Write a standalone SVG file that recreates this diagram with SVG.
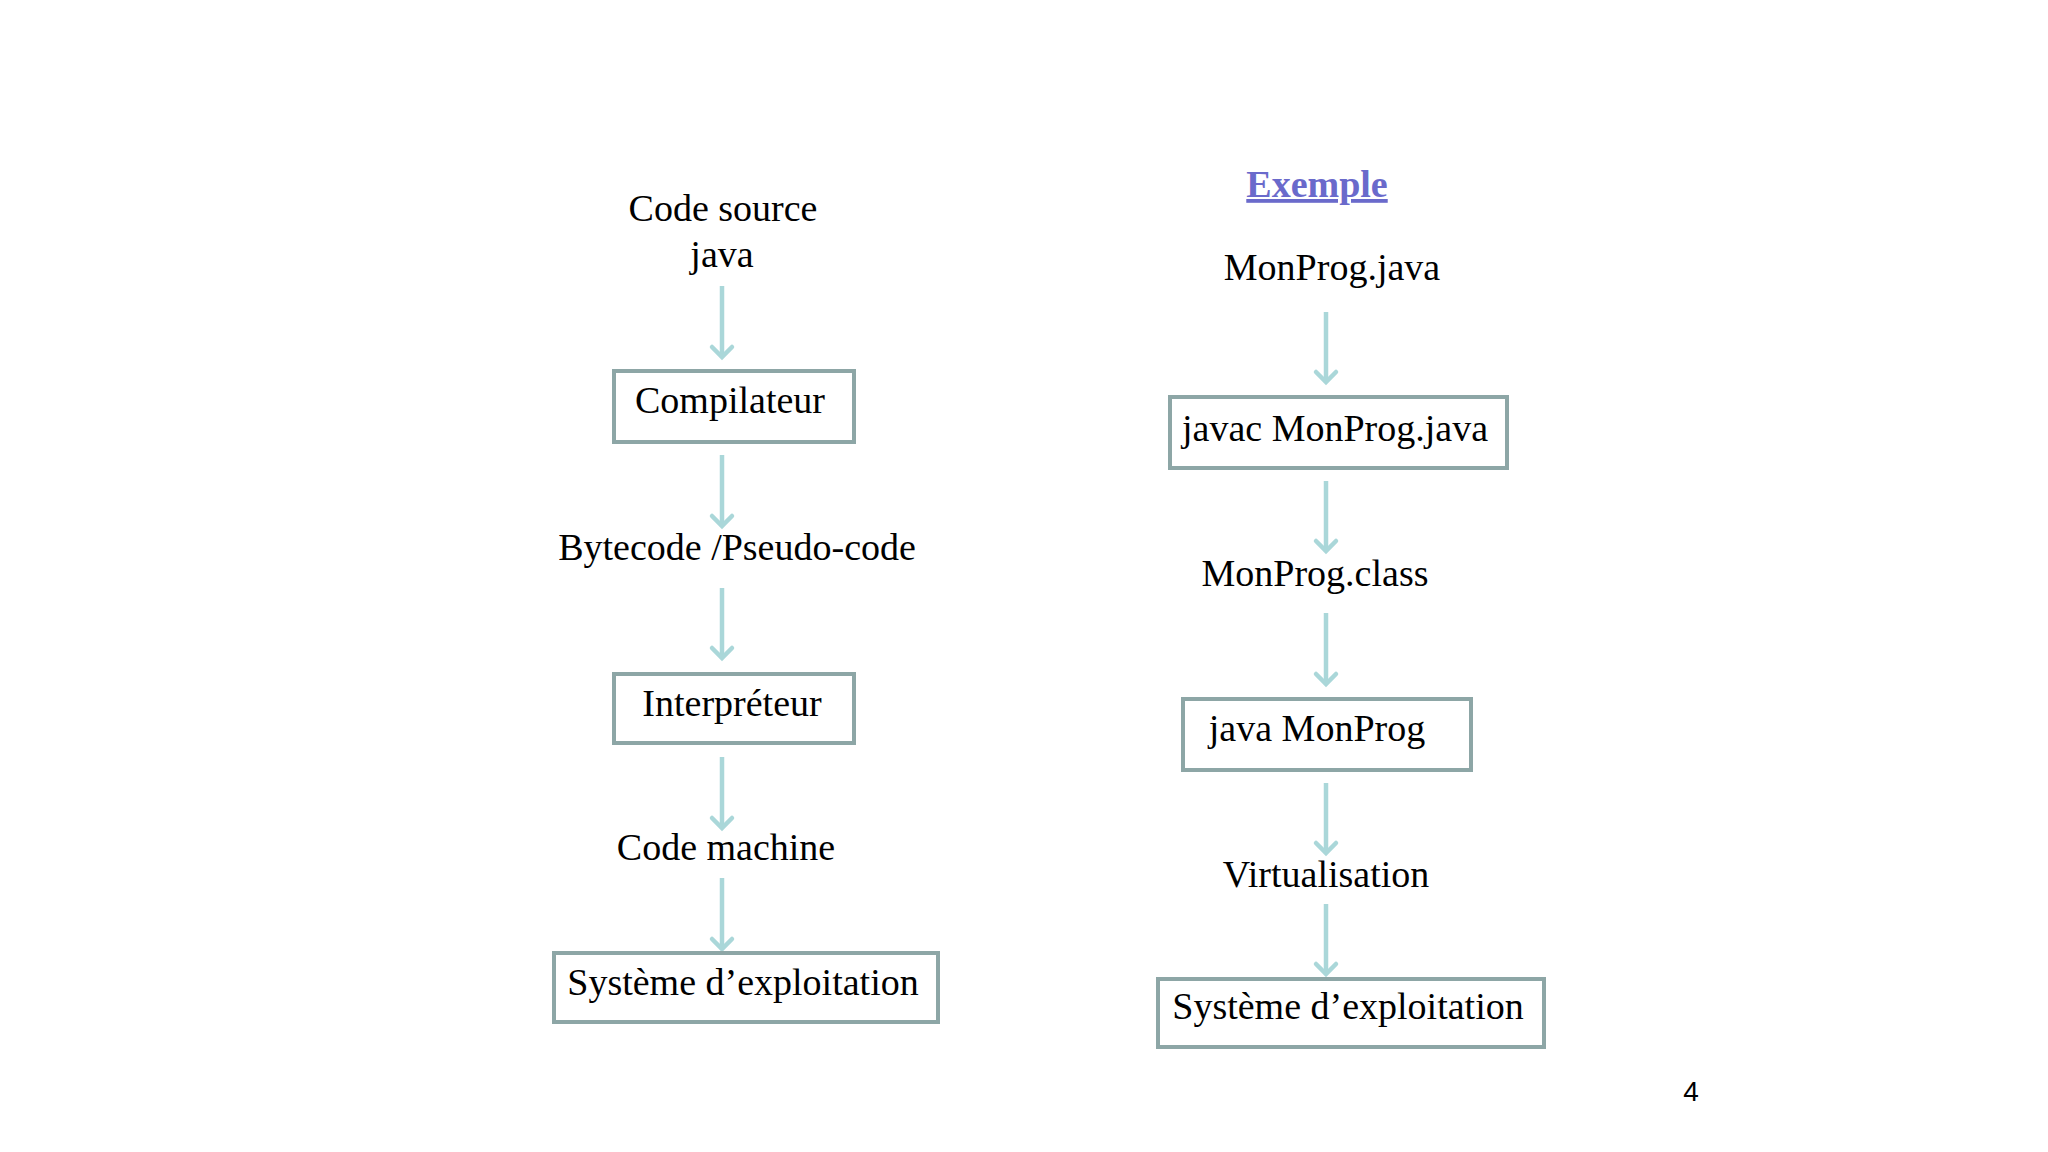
<svg xmlns="http://www.w3.org/2000/svg" width="2048" height="1152" viewBox="0 0 2048 1152">
<style>
.t{font-family:"Liberation Serif","Times New Roman",serif;font-size:38px;fill:#000;text-anchor:middle}
.box{fill:#fff;stroke:#8da6a6;stroke-width:4}
.arr{stroke:#aad7d9;stroke-width:4.5;fill:none}
.ex{font-family:"Liberation Serif","Times New Roman",serif;font-size:38px;font-weight:bold;fill:#6a6acb;text-anchor:middle;text-decoration:underline}
.pg{font-family:"Liberation Sans",Arial,sans-serif;font-size:28px;fill:#000;text-anchor:middle}
</style>
<defs>
<marker id="ah" markerUnits="userSpaceOnUse" markerWidth="30" markerHeight="30" refX="15" refY="22" orient="0" viewBox="0 0 30 30">
<path d="M5,12 L15,22 L25,12" fill="none" stroke="#aad7d9" stroke-width="4.5" stroke-linecap="round"/>
</marker>
</defs>
<rect width="2048" height="1152" fill="#fff"/>
<g id="connectors">
<line class="arr" x1="722" y1="286" x2="722" y2="357" marker-end="url(#ah)"/>
<line class="arr" x1="722" y1="455" x2="722" y2="526" marker-end="url(#ah)"/>
<line class="arr" x1="722" y1="588" x2="722" y2="658" marker-end="url(#ah)"/>
<line class="arr" x1="722" y1="757" x2="722" y2="828" marker-end="url(#ah)"/>
<line class="arr" x1="722" y1="878" x2="722" y2="949" marker-end="url(#ah)"/>
<line class="arr" x1="1326" y1="312" x2="1326" y2="382" marker-end="url(#ah)"/>
<line class="arr" x1="1326" y1="481" x2="1326" y2="551" marker-end="url(#ah)"/>
<line class="arr" x1="1326" y1="613" x2="1326" y2="684" marker-end="url(#ah)"/>
<line class="arr" x1="1326" y1="783" x2="1326" y2="853" marker-end="url(#ah)"/>
<line class="arr" x1="1326" y1="904" x2="1326" y2="974" marker-end="url(#ah)"/>
</g>
<g id="code-source"><text class="t" x="723" y="221">Code source</text><text class="t" x="722" y="267">java</text></g>
<g id="compilateur"><rect class="box" x="614" y="371" width="240" height="71"/><text class="t" x="730" y="413">Compilateur</text></g>
<g id="bytecode"><text class="t" x="737" y="560">Bytecode /Pseudo-code</text></g>
<g id="interpreteur"><rect class="box" x="614" y="674" width="240" height="69"/><text class="t" x="732" y="716">Interpréteur</text></g>
<g id="code-machine"><text class="t" x="726" y="860">Code machine</text></g>
<g id="systeme-left"><rect class="box" x="554" y="953" width="384" height="69"/><text class="t" x="743" y="995">Système d’exploitation</text></g>
<g id="exemple"><text class="ex" x="1317" y="197">Exemple</text></g>
<g id="monprog-java"><text class="t" x="1332" y="280">MonProg.java</text></g>
<g id="javac"><rect class="box" x="1170" y="397" width="337" height="71"/><text class="t" x="1335" y="441">javac MonProg.java</text></g>
<g id="monprog-class"><text class="t" x="1315" y="586">MonProg.class</text></g>
<g id="java-monprog"><rect class="box" x="1183" y="699" width="288" height="71"/><text class="t" x="1317" y="741">java MonProg</text></g>
<g id="virtualisation"><text class="t" x="1326" y="887">Virtualisation</text></g>
<g id="systeme-right"><rect class="box" x="1158" y="979" width="386" height="68"/><text class="t" x="1348" y="1019">Système d’exploitation</text></g>
<g id="page-number"><text class="pg" x="1691" y="1101">4</text></g>
</svg>
